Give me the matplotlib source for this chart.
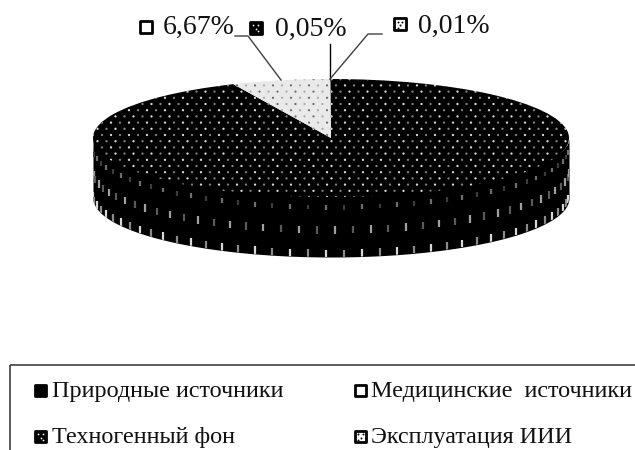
import numpy as np
import matplotlib
matplotlib.use("Agg")
import matplotlib.pyplot as plt
from matplotlib.patches import Rectangle

categories = ["Природные источники", "Медицинские  источники", "Техногенный фон", "Эксплуатация ИИИ"]
values = [93.27, 6.67, 0.05, 0.01]
value_labels = ["6,67%", "0,05%", "0,01%"]

W, H = 635, 450
plt.rcParams["font.family"] = ["Liberation Serif", "DejaVu Serif"]
fig = plt.figure(figsize=(W / 100, H / 100), dpi=100, facecolor="white")

# pie plane: centre (331,138), radii 238 x 59 px, drop 60 px
cx, cy, rx, ry, depth = 331, 138, 238, 59, 60
ax = fig.add_axes([(cx - rx) / W, 1 - (cy + ry) / H, 2 * rx / W, 2 * ry / H])
wedges, _ = ax.pie(values, startangle=90, counterclock=False, radius=1,
                   colors=["black", "#e9e9e9", "black", "#dddddd"],
                   wedgeprops=dict(linewidth=0))
ax.set_aspect("auto")
ax.set_xlim(-1, 1)
ax.set_ylim(-1, 1)
wedges[0].set_zorder(3)
wedges[1].set_zorder(3)
d = depth / ry

# side wall (overlaps the top plane slightly to avoid a seam)
t = np.linspace(np.pi, 2 * np.pi, 400)
wall = ax.fill_between(np.cos(t), 0.9 * np.sin(t), np.sin(t) - d, color="black", lw=0, clip_on=False, zorder=2)

# side dots: vertical ticks on three bands
dt = np.deg2rad(4.35)
bands = [(0.17, 0.0, 12, "#6e6e6e", "#3c3c3c"),
         (0.55, 0.5, 28, "#a0a0a0", "#5a5a5a"),
         (0.94, 0.0, 30, "#d8d8d8", "#8a8a8a")]
for z, off, size, c1, c2 in bands:
    th = np.arange(np.pi + dt * (0.4 + off), 2 * np.pi, dt)
    bright = np.where(np.arange(th.size) % 2 == 0, c1, c2)
    s = ax.scatter(np.cos(th), np.sin(th) - z * d, marker="|", s=size, linewidths=1.6,
                   c=bright, zorder=2.5)
    s.set_clip_box(fig.bbox)
    s.set_clip_path(wall.get_paths()[0], wall.get_transform())

# surface dots
px, py = 9 / rx, 6.2 / ry
xs, ys, cs = [], [], []
for i, y in enumerate(np.arange(-1, 1.001, py)):
    for j, x in enumerate(np.arange(-1 + (i % 2) * px / 2, 1.001, px)):
        xs.append(x); ys.append(y); cs.append(j % 2)
xs, ys, cs = np.array(xs), np.array(ys), np.array(cs)
d1 = ax.scatter(xs, ys, s=2.8, marker="o", linewidths=0,
                c=np.where(cs == 0, "#d8d8d8", "#808080"), zorder=4)
d1.set_clip_path(wedges[0])
d2 = ax.scatter(xs, ys, s=2.4, marker="o", linewidths=0,
                c=np.where(cs == 0, "#666666", "#a8a8a8"), zorder=4)
d2.set_clip_path(wedges[1])

# overlay in pixel coordinates
ov = fig.add_axes([0, 0, 1, 1], facecolor="none")
ov.set_xlim(0, W); ov.set_ylim(H, 0); ov.axis("off")
ov.set_zorder(5)

lc = "#404040"
ov.plot([235, 248, 281], [36, 36, 80], color=lc, lw=1)
ov.plot([330, 330], [44, 79], color="black", lw=1)
ov.plot([382, 368, 330], [34, 34, 79], color=lc, lw=1)

def key(x, y, s, kind):
    fc = "black" if kind in ("solid", "dark") else "white"
    ov.add_patch(Rectangle((x, y), s, s, fc=fc, ec="black", lw=2, joinstyle="round"))
    if kind == "dark":
        ov.scatter([x + s * .3, x + s * .7, x + s * .5, x + s * .7], [y + s * .3, y + s * .3, y + s * .6, y + s * .8],
                   s=1.6, c="white", linewidths=0)
    if kind == "light":
        ov.scatter([x + s * .3, x + s * .7, x + s * .5, x + s * .3], [y + s * .3, y + s * .3, y + s * .6, y + s * .8],
                   s=2, c="black", linewidths=0)

key(140, 21, 11.5, "open")
key(250, 22, 11.5, "dark")
key(394, 18, 12, "light")
for x, y, s in zip([163, 275, 418], [27, 29, 26], value_labels):
    ov.text(x, y, s, fontsize=20, color="#111111", va="center", ha="left")

# legend
ov.add_patch(Rectangle((9.5, 365), 700, 200, fc="none", ec="#404040", lw=1.2, clip_on=True))
key(35, 385, 11, "solid")
key(355, 385, 11, "open")
key(35, 431, 11, "dark")
key(355, 431, 11, "light")
for (x, y), s in zip([(52, 391), (371, 391), (52, 437), (371, 437)], categories):
    ov.text(x, y, s, fontsize=17.4, color="#111111", va="center", ha="left")

fig.savefig("out.png", dpi=100)
